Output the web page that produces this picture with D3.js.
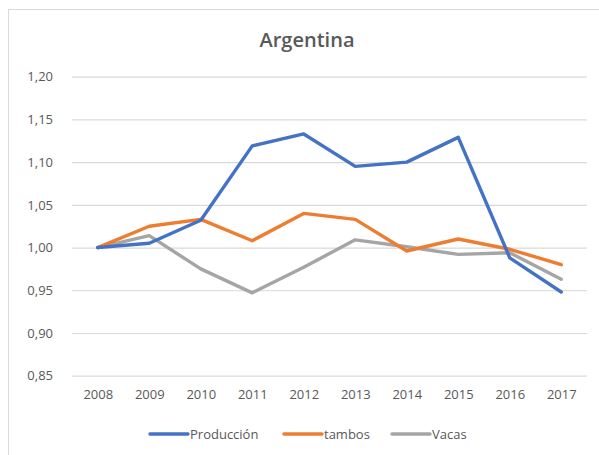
<!DOCTYPE html>
<html>
<head>
<meta charset="utf-8">
<script src="https://cdn.jsdelivr.net/npm/d3@7"></script>
<style>
  body { margin: 0; background: #fff; }
  svg text { font-family: "Open Sans", "Noto Sans", sans-serif; }
</style>
</head>
<body>
<div id="chart"></div>
<script>
// values
var years = ["2008", "2009", "2010", "2011", "2012", "2013", "2014", "2015", "2016", "2017"];
var produccion = [1.000, 1.005, 1.032, 1.119, 1.133, 1.095, 1.100, 1.129, 0.988, 0.948];
var tambos = [1.000, 1.025, 1.033, 1.008, 1.040, 1.033, 0.996, 1.010, 0.998, 0.980];
var vacas = [1.000, 1.014, 0.975, 0.947, 0.977, 1.009, 1.001, 0.992, 0.994, 0.963];
var yTicks = [0.85, 0.90, 0.95, 1.00, 1.05, 1.10, 1.15, 1.20];

var series = [
  {name: "Producción", values: produccion, color: "#4472c4"},
  {name: "tambos", values: tambos, color: "#ed7d31"},
  {name: "Vacas", values: vacas, color: "#a5a5a5"}
];

var w = 599, h = 455;
// plot area (window.top is reserved, so no "top" here)
var plotL = 72, plotR = 587, plotT = 76.7, plotB = 375.7;

var svg = d3.select("#chart")
  .append("svg")
  .attr("width", w)
  .attr("height", h);

// chart frame
svg.append("rect")
  .attr("x", 8.5).attr("y", 9.5)
  .attr("width", 620).attr("height", 470)
  .attr("fill", "none")
  .attr("stroke", "#d9d9d9");

svg.append("text")
  .text("Argentina")
  .attr("x", 307).attr("y", 47)
  .attr("text-anchor", "middle")
  .attr("font-size", "20px")
  .attr("font-weight", 600)
  .attr("fill", "#595959");

var x = d3.scalePoint().domain(years).range([plotL, plotR]).padding(0.5);
var y = d3.scaleLinear().domain([0.85, 1.20]).range([plotB, plotT]);

// gridlines + y labels
var yAxis = d3.axisLeft(y)
  .tickValues(yTicks)
  .tickSize(-(plotR - plotL))
  .tickPadding(19)
  .tickFormat(function(d) { return d3.format(".2f")(d).replace(".", ","); });

var gy = svg.append("g")
  .attr("transform", "translate(" + plotL + ",0)")
  .call(yAxis);
gy.select(".domain").remove();
gy.selectAll("line").attr("stroke", "#d9d9d9").attr("stroke-width", 1.2);
gy.selectAll("text").attr("fill", "#595959").attr("font-size", "13px");

var xAxis = d3.axisBottom(x).tickSize(0).tickPadding(14);
var gx = svg.append("g")
  .attr("transform", "translate(0," + plotB + ")")
  .call(xAxis);
gx.select(".domain").remove();
gx.selectAll("text").attr("fill", "#595959").attr("font-size", "13px");

var line = d3.line()
  .x(function(d, i) { return x(years[i]); })
  .y(function(d) { return y(d); });

// drawn in reverse so Producción ends up on top
svg.selectAll(".series")
  .data(series.slice().reverse())
  .enter()
  .append("path")
  .attr("class", "series")
  .attr("d", function(d) { return line(d.values); })
  .attr("fill", "none")
  .attr("stroke", function(d) { return d.color; })
  .attr("stroke-width", 3.4)
  .attr("stroke-linejoin", "round")
  .attr("stroke-linecap", "round");

// legend
var legendX = [150, 284, 392];
var legend = svg.selectAll(".legend")
  .data(series)
  .enter()
  .append("g")
  .attr("class", "legend")
  .attr("transform", function(d, i) { return "translate(" + legendX[i] + ",434)"; });

legend.append("line")
  .attr("x1", 0).attr("x2", 38)
  .attr("y1", 0).attr("y2", 0)
  .attr("stroke", function(d) { return d.color; })
  .attr("stroke-width", 3.4)
  .attr("stroke-linecap", "round");

legend.append("text")
  .text(function(d) { return d.name; })
  .attr("x", 40).attr("y", 4.5)
  .attr("font-size", "13px")
  .attr("fill", "#595959");
</script>
</body>
</html>
